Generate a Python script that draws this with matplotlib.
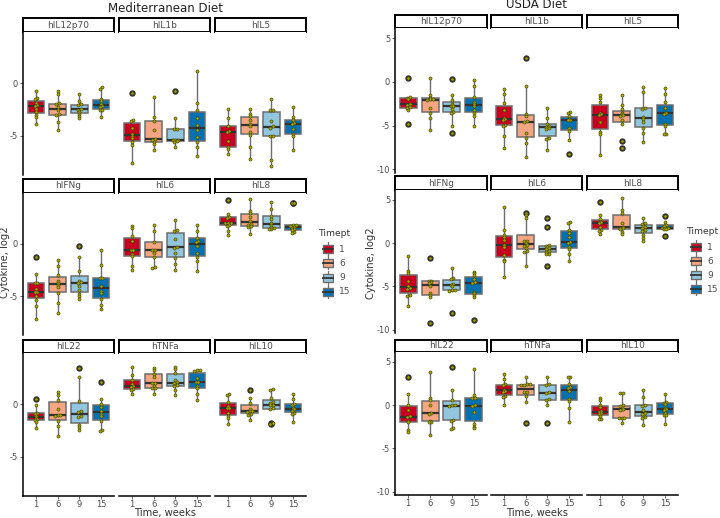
import numpy as np
import matplotlib
matplotlib.use("Agg")
from matplotlib import pyplot as plt
from matplotlib.patches import Rectangle

timepoints = ["1", "6", "9", "15"]
tp_colors = ["#ca0020", "#f4a582", "#92c5de", "#0571b0"]
cytokines = ["hIL12p70", "hIL1b", "hIL5", "hIFNg", "hIL6", "hIL8", "hIL22", "hTNFa", "hIL10"]

# Mediterranean diet, log2 values per timepoint (1, 6, 9, 15 weeks)
med_hIL12p70 = [[-0.75, -1.4, -1.5, -1.9, -2.1, -2.2, -2.4, -2.7, -3.0, -3.2, -3.9],
                [-0.7, -1.0, -1.9, -2.0, -2.3, -2.5, -2.9, -3.0, -3.7, -4.4],
                [-1.0, -1.7, -2.0, -2.1, -2.4, -2.5, -2.7, -2.9, -3.1, -3.3],
                [-0.4, -0.55, -1.5, -1.7, -2.0, -2.2, -2.3, -2.5, -2.5, -3.2]]
med_hIL1b = [[-0.95, -3.5, -3.6, -4.2, -4.8, -5.0, -5.2, -5.6, -5.9, -7.6],
             [-1.3, -3.2, -3.6, -4.4, -5.3, -5.4, -5.6, -5.8, -6.3],
             [-0.75, -3.3, -4.3, -4.3, -5.4, -5.4, -5.4, -5.5, -5.6, -6.0],
             [1.2, -1.9, -2.5, -3.3, -4.0, -4.4, -5.1, -5.6, -6.0, -6.9]]
med_hIL5 = [[-2.4, -3.3, -4.1, -4.5, -4.6, -5.5, -6.0, -6.2, -6.7],
            [-2.4, -2.9, -3.1, -3.5, -3.9, -4.1, -4.6, -4.9, -6.0, -7.2],
            [-1.5, -2.5, -2.5, -3.6, -4.1, -4.2, -5.0, -5.0, -7.3, -7.8],
            [-2.3, -3.2, -3.5, -3.8, -3.9, -4.3, -4.8, -5.0, -6.3]]
med_hIFNg = [[-1.3, -2.9, -3.7, -3.7, -4.3, -4.6, -4.6, -5.0, -5.4, -5.9, -7.2],
             [-1.5, -2.1, -3.0, -3.5, -3.7, -3.9, -4.1, -4.7, -5.6, -6.6],
             [-0.2, -1.3, -2.6, -3.5, -3.6, -3.7, -4.0, -4.4, -4.8, -5.0, -5.3],
             [-0.6, -2.0, -3.3, -3.3, -4.0, -4.5, -4.7, -5.3, -5.8, -6.2]]
med_hIL6 = [[1.7, 1.5, 0.7, 0.3, -0.6, -0.6, -1.0, -1.2, -2.1, -2.5],
            [1.8, 1.2, 0.2, -0.6, -0.6, -0.9, -1.3, -2.2, -2.3],
            [2.3, 1.3, 1.2, 0.5, -0.3, -0.4, -0.9, -1.4, -1.9, -2.5],
            [1.8, 1.2, 0.6, 0.3, 0.2, -0.2, -0.9, -1.3, -1.6, -2.6]]
med_hIL8 = [[4.2, 2.8, 2.6, 2.5, 2.0, 2.0, 2.0, 1.8, 1.7, 1.2, 0.8],
            [4.3, 3.1, 2.9, 2.6, 2.2, 1.9, 1.8, 1.7, 1.6, 0.9],
            [4.0, 3.3, 2.7, 2.4, 2.0, 1.8, 1.6, 1.5, 1.4, 1.4],
            [3.9, 3.9, 1.8, 1.8, 1.7, 1.6, 1.5, 1.4, 1.3, 1.1, 1.0]]
med_hIL22 = [[0.5, -0.1, -0.8, -0.9, -1.1, -1.3, -1.4, -1.5, -1.7, -2.3],
             [1.2, 0.9, 0.4, -0.5, -1.0, -1.0, -1.1, -1.6, -2.1, -3.0],
             [3.4, 2.6, 0.3, -0.6, -0.7, -1.1, -1.2, -2.0, -2.2, -2.4],
             [2.1, 0.5, 0.0, -0.3, -0.6, -0.9, -1.1, -1.6, -2.4, -2.5]]
med_hTNFa = [[3.5, 2.8, 2.3, 1.9, 1.7, 1.6, 1.4, 1.3, 1.0],
             [3.4, 3.2, 2.9, 2.6, 2.0, 2.0, 1.7, 1.5, 1.5, 1.0],
             [3.5, 3.3, 3.0, 2.3, 2.1, 2.0, 1.8, 1.7, 1.3, 0.9],
             [3.2, 3.2, 3.1, 2.5, 2.1, 2.1, 1.7, 1.5, 1.0, 0.4]]
med_hIL10 = [[1.0, 0.9, 0.2, -0.2, -0.4, -0.4, -0.8, -1.1, -1.3, -1.9],
             [1.3, 0.6, 0.1, -0.5, -0.6, -0.6, -0.7, -0.9, -1.0, -1.5],
             [1.4, 1.3, 0.6, 0.2, 0.1, -0.1, -0.1, -0.4, -0.5, -1.8, -1.9],
             [1.0, 0.5, 0.0, -0.1, -0.4, -0.5, -0.6, -0.8, -0.9, -1.7]]

# USDA diet
usda_hIL12p70 = [[0.5, -1.7, -1.8, -2.0, -2.5, -2.6, -2.9, -3.0, -3.2, -4.8],
                 [0.5, -1.5, -1.8, -2.0, -2.0, -2.1, -3.0, -3.6, -4.1, -5.5],
                 [0.3, -1.5, -2.1, -2.5, -2.7, -2.7, -3.1, -3.4, -3.5, -5.0, -5.8],
                 [0.25, -0.5, -1.7, -2.3, -2.5, -2.8, -3.2, -3.5, -3.9, -5.0]]
usda_hIL1b = [[-0.8, -1.4, -2.4, -3.2, -4.1, -4.2, -4.3, -4.9, -5.0, -6.2, -7.6],
              [2.7, -0.5, -3.7, -3.9, -4.5, -4.6, -5.8, -6.4, -7.0, -8.6],
              [-3.0, -4.1, -4.8, -5.0, -5.1, -5.3, -5.4, -6.4, -6.5, -7.8],
              [-3.4, -3.5, -3.9, -4.2, -4.3, -4.4, -5.3, -5.6, -6.6, -8.2]]
usda_hIL5 = [[-1.5, -1.8, -2.3, -3.5, -3.7, -3.8, -4.6, -5.7, -5.9, -8.4],
             [-1.5, -2.6, -3.1, -3.5, -3.7, -3.8, -3.9, -4.3, -4.8, -6.8, -7.5],
             [-0.6, -1.2, -3.0, -3.1, -4.0, -4.2, -4.6, -5.3, -5.8, -6.9],
             [-0.7, -1.4, -2.3, -3.0, -3.5, -3.6, -3.7, -4.8, -5.0, -5.9, -6.0]]
usda_hIFNg = [[-1.5, -3.2, -3.4, -4.4, -5.0, -5.2, -5.3, -6.0, -6.1, -7.3],
              [-1.7, -4.4, -4.4, -4.5, -4.6, -5.0, -5.8, -6.0, -6.2, -9.3],
              [-2.9, -4.0, -4.1, -4.7, -4.8, -5.0, -5.4, -5.4, -5.5, -8.1],
              [-3.3, -3.5, -3.7, -4.2, -4.5, -4.6, -5.6, -5.8, -6.0, -6.2, -8.85]]
usda_hIL6 = [[4.2, 1.5, 0.9, 0.7, 0.4, -0.2, -0.5, -1.4, -1.9, -2.1, -3.9],
             [3.5, 3.3, 2.9, 0.3, 0.2, 0.0, -0.2, -0.3, -0.6, -0.9, -1.0, -2.6],
             [2.9, 1.9, -0.2, -0.3, -0.5, -0.6, -0.7, -0.9, -1.0, -1.2, -1.3, -2.6],
             [2.4, 2.3, 1.5, 1.2, 0.7, 0.1, 0.0, -0.4, -0.7, -1.3, -2.1]]
usda_hIL8 = [[4.8, 3.3, 2.8, 2.5, 2.4, 2.3, 1.9, 1.5, 1.4, 1.1],
             [5.2, 3.8, 3.5, 2.3, 1.9, 1.8, 1.7, 1.6, 1.3, 1.1],
             [2.9, 2.3, 2.2, 2.0, 1.9, 1.8, 1.5, 1.4, 0.9, 0.6, 0.2],
             [3.1, 2.5, 2.1, 2.0, 1.8, 1.8, 1.8, 1.6, 1.6, 0.8]]
usda_hIL22 = [[3.3, 1.3, 0.0, -0.6, -1.3, -1.4, -1.8, -2.0, -2.9, -3.1],
              [3.8, 0.8, 0.6, 0.0, -0.9, -1.0, -1.8, -1.9, -2.0, -3.4],
              [4.4, 1.7, 0.6, 0.0, 0.0, -0.1, -1.7, -1.8, -2.7, -2.8],
              [4.2, 1.2, 0.8, 0.8, 0.0, -0.1, -0.8, -2.2, -2.5, -2.7]]
usda_hTNFa = [[3.6, 3.0, 2.4, 2.3, 1.8, 1.6, 1.5, 1.0, 0.9, 0.0],
              [3.3, 2.4, 2.4, 2.3, 2.3, 1.5, 1.5, 1.0, 0.4, -2.1],
              [3.3, 2.4, 2.3, 1.5, 1.4, 0.7, 0.6, 0.0, -2.1],
              [3.3, 3.2, 2.4, 2.1, 2.0, 1.6, 0.7, 0.5, -0.3, -2.0]]
usda_hIL10 = [[0.8, 0.6, 0.0, -0.2, -0.7, -0.8, -0.9, -1.0, -1.2, -1.6, -1.6],
              [1.4, 1.4, 0.0, -0.1, -0.4, -0.5, -0.6, -1.5, -1.5, -1.5, -2.1],
              [1.8, 0.9, 0.0, -0.1, -0.6, -0.9, -1.0, -1.4, -1.5, -2.3],
              [1.3, 0.4, 0.3, 0.1, -0.3, -0.5, -0.6, -0.9, -1.1, -1.1, -2.2]]

med_data = [med_hIL12p70, med_hIL1b, med_hIL5, med_hIFNg, med_hIL6, med_hIL8,
            med_hIL22, med_hTNFa, med_hIL10]
usda_data = [usda_hIL12p70, usda_hIL1b, usda_hIL5, usda_hIFNg, usda_hIL6, usda_hIL8,
             usda_hIL22, usda_hTNFa, usda_hIL10]

W, H = 720, 518
fig = plt.figure(figsize=(W / 100, H / 100), dpi=100)
fig.patch.set_facecolor("white")

TXT = "#4d4d4d"


def px_axes(x0, y0, x1, y1):
    return fig.add_axes([x0 / W, 1 - y1 / H, (x1 - x0) / W, (y1 - y0) / H])


def dot_offsets(vals, tol, dx):
    # stack near-equal values side by side, like a centred dotplot
    order = np.argsort(vals)
    offs = np.zeros(len(vals))
    groups = []
    cur = [order[0]]
    for k in order[1:]:
        if vals[k] - vals[cur[0]] < tol:
            cur.append(k)
        else:
            groups.append(cur)
            cur = [k]
    groups.append(cur)
    for g in groups:
        n = len(g)
        for i, k in enumerate(g):
            offs[k] = (i - (n - 1) / 2) * dx
    return offs


def draw_panel(data, cols, rows, ylim, yticks, title, title_xy, xlab_xy, ylab_xy, leg):
    for idx, name in enumerate(cytokines):
        r, c = divmod(idx, 3)
        x0, x1 = cols[c]
        (s0, s1), (p0, p1) = rows[r]
        # strip
        sax = px_axes(x0, s0, x1, s1)
        sax.set_xticks([])
        sax.set_yticks([])
        for sp in sax.spines.values():
            sp.set_linewidth(1.4)
            sp.set_color("black")
        sax.text(0.5, 0.5, name, ha="center", va="center", fontsize=6.5, color=TXT,
                 transform=sax.transAxes)

        ax = px_axes(x0, p0, x1, p1)
        groups = data[idx]
        bp = ax.boxplot(groups, positions=[1, 2, 3, 4], widths=0.78, patch_artist=True,
                        whis=1.5, showcaps=False,
                        boxprops=dict(edgecolor="#6e6e6e", linewidth=1.1),
                        whiskerprops=dict(color="#6e6e6e", linewidth=1.0),
                        medianprops=dict(color="#333333", linewidth=1.6),
                        flierprops=dict(marker="o", markerfacecolor="#333333",
                                        markeredgecolor="#333333", markersize=3.6))
        for patch, col in zip(bp["boxes"], tp_colors):
            patch.set_facecolor(col)
        for j, vals in enumerate(groups):
            vals = np.array(vals)
            offs = dot_offsets(vals, 0.18, 0.13)
            ax.scatter(j + 1 + offs, vals, s=5, facecolor="#a8a800", edgecolor="#3d3d00",
                       linewidth=0.4, zorder=5)
        ax.set_xlim(0.4, 4.6)
        ax.set_ylim(*ylim)
        for sp in ["top", "right"]:
            ax.spines[sp].set_visible(False)
        ax.spines["left"].set_visible(c == 0)
        ax.spines["bottom"].set_visible(r == 2)
        for sp in ["left", "bottom"]:
            ax.spines[sp].set_linewidth(1.1)
        if c == 0:
            ax.set_yticks(yticks)
            ax.set_yticklabels([str(t) for t in yticks])
            ax.tick_params(axis="y", length=2, width=0.6, labelsize=6, colors=TXT, pad=1.5)
        else:
            ax.set_yticks([])
        if r == 2:
            ax.set_xticks([1, 2, 3, 4])
            ax.set_xticklabels(timepoints)
            ax.tick_params(axis="x", length=2, width=0.6, labelsize=6, colors=TXT, pad=1)
        else:
            ax.set_xticks([])

    fig.text(title_xy[0] / W, 1 - title_xy[1] / H, title, ha="center", va="center",
             fontsize=8.5, color="#222222")
    fig.text(xlab_xy[0] / W, 1 - xlab_xy[1] / H, "Time, weeks", ha="center", va="center",
             fontsize=7.2, color="#333333")
    fig.text(ylab_xy[0] / W, 1 - ylab_xy[1] / H, "Cytokine, log2", ha="center", va="center",
             rotation=90, fontsize=7.2, color="#333333")

    # legend
    lx, ly_title, key_ys = leg
    fig.text(lx / W, 1 - ly_title / H, "Timept", ha="left", va="center", fontsize=6.6,
             color="#333333")
    for yk, col, lab in zip(key_ys, tp_colors, timepoints):
        kax = px_axes(lx + 3, yk - 7, lx + 15, yk + 7)
        kax.set_xlim(0, 1)
        kax.set_ylim(0, 1)
        kax.axis("off")
        kax.plot([0.5, 0.5], [0.0, 1.0], color="#6e6e6e", lw=0.9)
        kax.add_patch(Rectangle((0.08, 0.22), 0.84, 0.56, facecolor=col, edgecolor="#6e6e6e",
                                lw=1.0, zorder=3))
        kax.plot([0.08, 0.92], [0.5, 0.5], color="#333333", lw=1.3, zorder=4)
        fig.text((lx + 20) / W, 1 - yk / H, lab, ha="left", va="center", fontsize=6.5,
                 color=TXT)


med_cols = [(23, 114), (119, 210), (215, 306)]
med_rows = [((18, 32), (32, 175)), ((179, 193), (193, 335)), ((340, 353), (353, 496))]
draw_panel(med_data, med_cols, med_rows, (-8.7, 4.85), [-5, 0], "Mediterranean Diet",
           (165, 8), (165, 513), (5, 262),
           (319, 233, [249, 263, 278, 292]))

usda_cols = [(395, 487), (491, 582), (587, 678)]
usda_rows = [((15, 28), (28, 173)), ((176, 190), (190, 333)), ((340, 352), (352, 495))]
draw_panel(usda_data, usda_cols, usda_rows, (-10.4, 6.15), [-10, -5, 0, 5], "USDA Diet",
           (537, 5), (537, 513), (371, 263),
           (687, 231, [247, 261, 275, 289]))

fig.savefig("out.png", dpi=100)
